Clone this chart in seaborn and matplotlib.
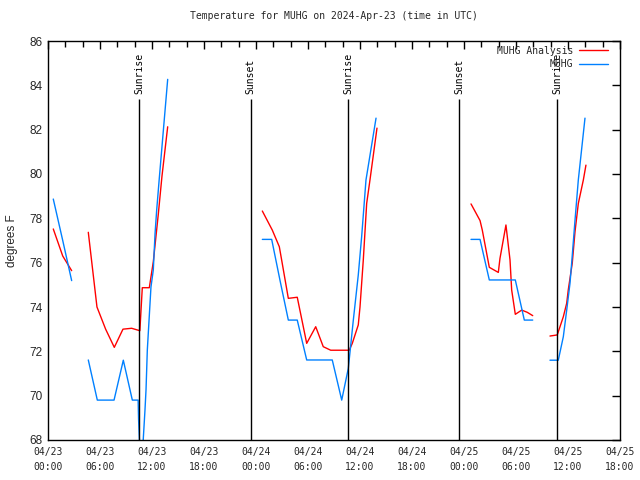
import numpy as np
import pandas as pd
import matplotlib
matplotlib.use("Agg")
import matplotlib.pyplot as plt
import matplotlib.dates as mdates
import seaborn as sns

base = pd.Timestamp("2024-04-23 00:00")
nan = np.nan

# hours after 04/23 00:00 UTC, nan marks a gap in the record
ana_hours = [0.61, 1.70, 2.73, nan,
             4.65, 5.65, 6.65, 7.65, 8.65, 9.65, 10.60, 10.88, 11.69, 12.15, 12.73, 13.15, 13.81, nan,
             24.73, 25.88, 26.69, 26.96, 27.73, 28.76, 29.85, 30.89, 31.76, 32.62, 34.76, 35.11,
             35.80, 36.00, 36.38, 36.77, 37.15, 37.96, nan,
             48.81, 49.85, 50.11, 50.92, 51.96, 52.15, 52.84, 53.31, 53.50, 53.92, 54.66, 55.30, 55.93, nan,
             57.92, 58.76, 59.46, 59.85, 60.03, 60.49, 60.81, 61.19, 61.77, 62.07]
ana_temp = [77.52, 76.30, 75.64, nan,
            77.37, 74.00, 73.00, 72.18, 73.00, 73.04, 72.93, 74.87, 74.87, 76.04, 78.20, 79.90, 82.13, nan,
            78.33, 77.47, 76.72, 76.12, 74.39, 74.44, 72.36, 73.11, 72.21, 72.05, 72.05, 72.36,
            73.19, 74.00, 76.12, 78.67, 79.73, 82.07, nan,
            78.65, 77.90, 77.47, 75.79, 75.56, 76.19, 77.70, 76.12, 74.77, 73.67, 73.86, 73.76, 73.61, nan,
            72.69, 72.74, 73.56, 74.17, 74.77, 75.97, 77.40, 78.67, 79.73, 80.40]

obs_hours = [0.61, 1.70, 2.73, nan,
             4.65, 5.69, 7.62, 8.69, 9.73, 10.40, 10.45, 10.73, 11.19, 11.31, 11.46, 11.88, 12.15,
             12.35, 12.54, 12.84, 13.81, nan,
             24.73, 25.81, 26.77, 27.73, 28.76, 29.85, 32.80, 33.89, 34.65, 35.23, 35.80, 36.19,
             36.69, 37.85, nan,
             48.81, 49.85, 50.92, 53.92, 54.96, 55.93, nan,
             57.92, 58.88, 59.46, 59.85, 60.23, 60.42, 60.81, 61.19, 61.96]
obs_temp = [78.87, 77.00, 75.19, nan,
            71.61, 69.80, 69.80, 71.60, 69.80, 69.80, 68.93, 66.30, 69.35, 70.26, 72.06, 74.90, 75.67,
            77.30, 78.37, 79.80, 84.27, nan,
            77.05, 77.05, 75.20, 73.41, 73.41, 71.61, 71.61, 69.80, 71.23, 73.41, 75.44, 77.17,
            79.73, 82.52, nan,
            77.05, 77.05, 75.22, 75.22, 73.41, 73.41, nan,
            71.60, 71.60, 72.66, 73.86, 75.07, 75.97, 77.92, 79.73, 82.52]

sun_hours = [10.53, 23.39, 34.65, 47.46, 58.76]
sun_names = ["Sunrise", "Sunset", "Sunrise", "Sunset", "Sunrise"]


def to_frame(hours, temps, name):
    h = np.array(hours, dtype=float)
    seg = np.cumsum(np.isnan(h))
    df = pd.DataFrame({"time": base + pd.to_timedelta(h, unit="h"),
                       "temp": temps, "seg": seg, "series": name})
    return df.dropna()


df = pd.concat([to_frame(ana_hours, ana_temp, "MUHG Analysis"),
                to_frame(obs_hours, obs_temp, "MUHG")], ignore_index=True)

sns.set_theme(style="white")
mono = "DejaVu Sans Mono"
plt.rcParams["font.family"] = ["Liberation Sans", "DejaVu Sans"]

fig = plt.figure(figsize=(6.4, 4.8), dpi=100)
ax = fig.add_axes([48 / 640, 40 / 480, 572 / 640, 399 / 480])

sns.lineplot(data=df, x="time", y="temp", hue="series", units="seg", estimator=None,
             hue_order=["MUHG Analysis", "MUHG"],
             palette={"MUHG Analysis": "#ff0000", "MUHG": "#0080ff"},
             linewidth=1, ax=ax)

sun_times = [base + pd.Timedelta(hours=h) for h in sun_hours]
ax.vlines(sun_times, 68, 83.4, color="black", linewidth=1)
for t, name in zip(sun_times, sun_names):
    ax.text(t, 83.6, name, rotation=90, ha="center", va="bottom",
            family=mono, fontsize=7, color="black")

ax.set_xlim(base, base + pd.Timedelta(hours=66))
ax.set_ylim(68, 86)
ax.set_yticks(np.arange(68, 87, 2))
ax.xaxis.set_major_locator(mdates.HourLocator(byhour=[0, 6, 12, 18]))
ax.xaxis.set_minor_locator(mdates.HourLocator(byhour=range(0, 24, 2)))
ax.xaxis.set_major_formatter(mdates.DateFormatter("%m/%d\n%H:%M"))

for s in ax.spines.values():
    s.set_color("black")
    s.set_linewidth(1)
ax.tick_params(which="both", direction="in", top=True, right=True, color="black")
ax.tick_params(which="major", length=6, width=1)
ax.tick_params(which="minor", length=4, width=1)
ax.tick_params(axis="x", labelsize=7, pad=5)
ax.tick_params(axis="y", labelsize=8.5, pad=4)
for lab in ax.get_xticklabels():
    lab.set_family(mono)
    lab.set_linespacing(1.6)

ax.set_xlabel("")
ax.set_ylabel("degrees F", fontsize=8.5, labelpad=8)
ax.set_title("Temperature for MUHG on 2024-Apr-23 (time in UTC)", family=mono, fontsize=7, pad=16)

handles, labels = ax.get_legend_handles_labels()
ax.legend(handles, labels, loc="upper right", bbox_to_anchor=(0.985, 0.998), frameon=False,
          markerfirst=False, prop={"family": mono, "size": 7}, handlelength=2.9,
          handletextpad=0.6, labelspacing=0.35, borderaxespad=0)

fig.savefig("out.png", dpi=100)
